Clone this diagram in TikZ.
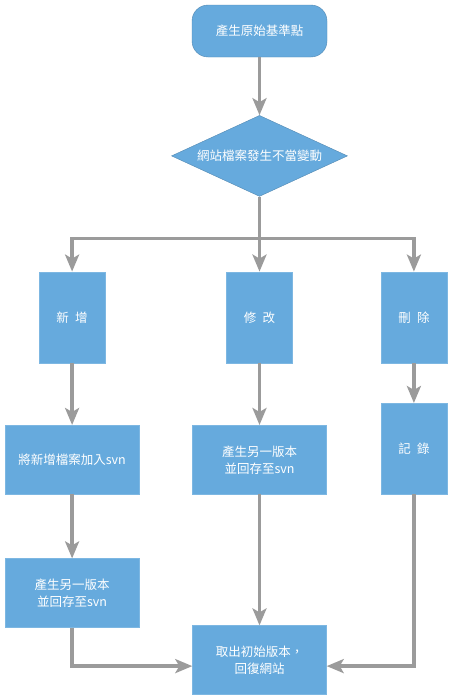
\documentclass[tikz,border=0pt]{standalone}
\usepackage{fontspec}
\usepackage{tikz}
\usetikzlibrary{shapes.geometric, arrows.meta, positioning, calc}
\newfontfamily\cjk{Noto Sans CJK TC}
\definecolor{flowblue}{HTML}{66AADD}
\definecolor{flowgray}{HTML}{9B9B9B}

\begin{document}
\begin{tikzpicture}[x=1pt, y=1pt,
  task/.style={rectangle, fill=flowblue, draw=flowblue!85!white, text=white,
    align=center, inner sep=0pt, font=\cjk\fontsize{12.5}{17}\selectfont},
  tall/.style={task, minimum width=66pt, minimum height=91pt},
  wide/.style={task, minimum width=134pt, minimum height=69pt},
  startbox/.style={task, rounded corners=16pt, draw=flowblue!80!black,
    minimum width=135pt, minimum height=52pt},
  decision/.style={task, diamond, draw=flowblue!80!black, aspect=2.17,
    minimum width=176pt, minimum height=81pt},
  arrow/.style={-{Stealth[length=17pt,width=14pt,inset=4pt]}, line width=3.3pt, color=flowgray}
]
  \useasboundingbox (0,0) rectangle (450,-696);

  \node[startbox] (origin) at (259.5,-31) {產生原始基準點};
  \node[decision, below=58pt of origin] (change) {網站檔案發生不當變動};
  \node[tall, below=75pt of change]   (modify)  {修\enspace 改};
  \node[tall, left=121pt of modify]   (add)     {新\enspace 增};
  \node[tall, right=88pt of modify]   (delete)  {刪\enspace 除};
  \node[wide, below=62pt of add]      (addsvn)  {將新增檔案加入svn};
  \node[wide, below=62pt of modify]   (modsvn)  {產生另一版本\\並回存至svn};
  \node[tall, below=40pt of delete]   (record)  {記\enspace 錄};
  \node[wide, below=64pt of addsvn]   (addver)  {產生另一版本\\並回存至svn};
  \node[wide, below=131pt of modsvn]  (restore) {取出初始版本，\\回復網站};
  \coordinate[below=42pt of change.south] (split);

  \draw[arrow] (origin)  -- (change);
  \draw[arrow] (change)  -- (modify);
  \draw[arrow] (split)   -| (add);
  \draw[arrow] (split)   -| (delete);
  \draw[arrow] (add)     -- (addsvn);
  \draw[arrow] (addsvn)  -- (addver);
  \draw[arrow] (addver)  |- ([yshift=-6pt]restore.west);
  \draw[arrow] (modify)  -- (modsvn);
  \draw[arrow] (modsvn)  -- (restore);
  \draw[arrow] (delete)  -- (record);
  \draw[arrow] (record)  |- ([yshift=-6pt]restore.east);
\end{tikzpicture}
\end{document}
